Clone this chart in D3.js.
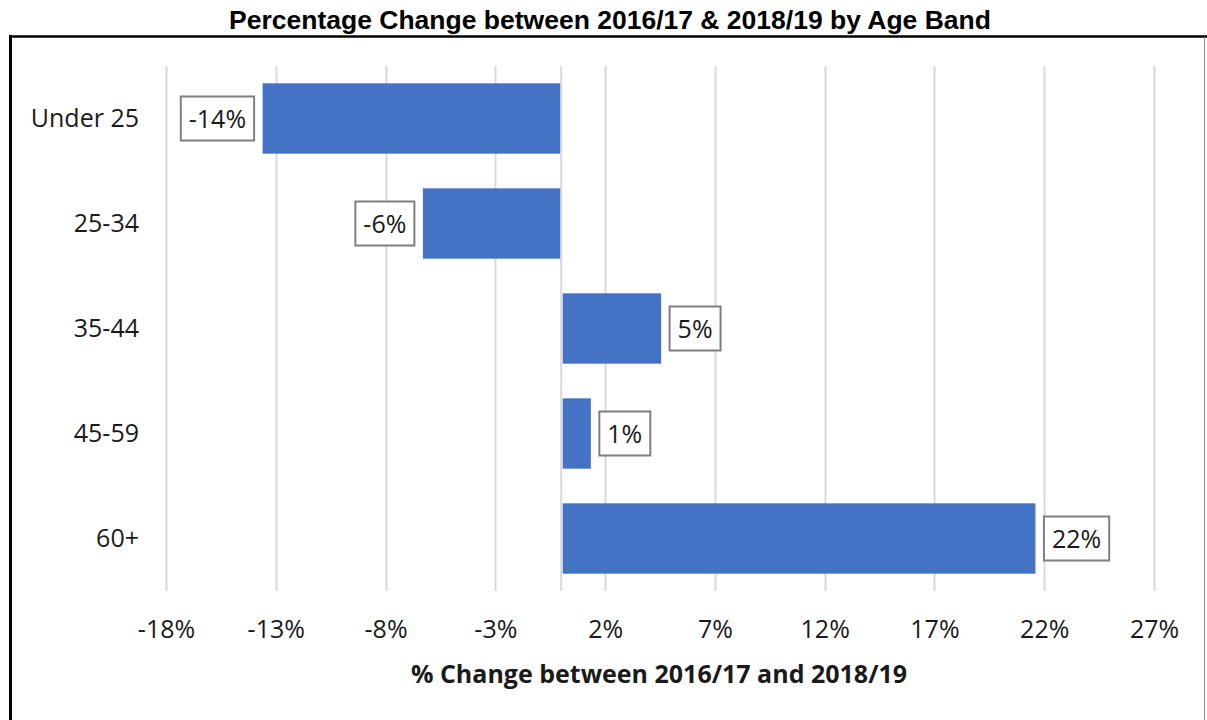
<!DOCTYPE html>
<html>
<head>
<meta charset="utf-8">
<script src="https://cdn.jsdelivr.net/npm/d3@7"></script>
<style>
  html, body { margin: 0; padding: 0; background: #fff; }
  svg { display: block; }
</style>
</head>
<body>
<svg id="chart" width="1207" height="720"></svg>
<script>
// ---- Data ----
const categories = ["Under 25", "25-34", "35-44", "45-59", "60+"];
const values = [-13.6, -6.3, 4.55, 1.35, 21.6];
const labels = ["-14%", "-6%", "5%", "1%", "22%"];
const tickValues = [-18, -13, -8, -3, 2, 7, 12, 17, 22, 27];
const tickLabels = ["-18%", "-13%", "-8%", "-3%", "2%", "7%", "12%", "17%", "22%", "27%"];
const titleText = "Percentage Change between 2016/17 & 2018/19 by Age Band";
const axisTitleText = "% Change between 2016/17 and 2018/19";

// ---- Layout ----
const W = 1207, H = 720;
const plot = { left: 166, right: 1154, top: 66, bottom: 591 };
const svg = d3.select("#chart");
const bodyFont = "'Open Sans', 'Noto Sans', sans-serif";

// Frame
svg.append("line").attr("x1", 9).attr("x2", W).attr("y1", 36.5).attr("y2", 36.5)
  .attr("stroke", "#000").attr("stroke-width", 2.5);
svg.append("line").attr("x1", 10.5).attr("x2", 10.5).attr("y1", 35).attr("y2", H)
  .attr("stroke", "#000").attr("stroke-width", 3);
svg.append("line").attr("x1", 1204.5).attr("x2", 1204.5).attr("y1", 37).attr("y2", H)
  .attr("stroke", "#8c8c8c").attr("stroke-width", 1);

// Title
svg.append("text")
  .attr("x", 610).attr("y", 29)
  .attr("text-anchor", "middle")
  .style("font-family", "'Liberation Sans', Arial, sans-serif")
  .style("font-weight", "bold")
  .style("font-size", "26.5px")
  .attr("fill", "#000")
  .text(titleText);

// Scales
const x = d3.scaleLinear().domain([-18, 27]).range([plot.left, plot.right]);
const y = d3.scaleBand().domain(categories).range([plot.top, plot.bottom]).paddingInner(0.33).paddingOuter(0.165);

// Gridlines
svg.append("g").selectAll("line").data(tickValues).join("line")
  .attr("x1", d => Math.round(x(d)) + 0.5).attr("x2", d => Math.round(x(d)) + 0.5)
  .attr("y1", plot.top).attr("y2", plot.bottom)
  .attr("stroke", "#d9d9d9").attr("stroke-width", 2);

// Zero axis line
svg.append("line")
  .attr("x1", x(0)).attr("x2", x(0))
  .attr("y1", plot.top).attr("y2", plot.bottom)
  .attr("stroke", "#d9d9d9").attr("stroke-width", 2);

// X axis (tick labels)
const xAxis = d3.axisBottom(x).tickValues(tickValues)
  .tickFormat((d, i) => tickLabels[i]).tickSize(0).tickPadding(0);
const gx = svg.append("g").attr("transform", `translate(0,${plot.bottom})`).call(xAxis);
gx.select(".domain").remove();
gx.selectAll("text")
  .attr("y", 0).attr("dy", null)
  .attr("transform", "translate(0,47)")
  .style("font-family", bodyFont).style("font-size", "25px").attr("fill", "#1a1a1a");

// Y axis (category labels)
const yAxis = d3.axisLeft(y).tickSize(0).tickPadding(0);
const gy = svg.append("g").attr("transform", `translate(139,0)`).call(yAxis);
gy.select(".domain").remove();
gy.selectAll("text")
  .attr("dy", "0.355em")
  .style("font-family", bodyFont).style("font-size", "25px").attr("fill", "#1a1a1a");

// Axis title
svg.append("text")
  .attr("x", 659).attr("y", 683)
  .attr("text-anchor", "middle")
  .style("font-family", bodyFont).style("font-weight", "bold").style("font-size", "25px")
  .attr("fill", "#1a1a1a")
  .text(axisTitleText);

// Bars
svg.append("g").selectAll("rect").data(values).join("rect")
  .attr("x", d => d < 0 ? x(d) : x(0) + 1.5)
  .attr("width", d => d < 0 ? x(0) - x(d) - 1 : x(d) - x(0) - 1.5)
  .attr("y", (d, i) => y(categories[i]))
  .attr("height", y.bandwidth())
  .attr("fill", "#4472c4");

// Data labels with boxes
const lg = svg.append("g");
values.forEach((v, i) => {
  const cy = y(categories[i]) + y.bandwidth() / 2;
  const g = lg.append("g");
  const t = g.append("text")
    .attr("y", cy).attr("dy", "0.38em")
    .attr("text-anchor", "middle")
    .style("font-family", bodyFont).style("font-size", "25px").attr("fill", "#1a1a1a")
    .text(labels[i]);
  const tw = t.node().getComputedTextLength();
  const bw = tw + 16, bh = 44, gap = 8.5;
  const bx = v < 0 ? x(v) - gap - bw : x(v) + gap;
  g.insert("rect", "text")
    .attr("x", bx).attr("y", cy - bh / 2)
    .attr("width", bw).attr("height", bh)
    .attr("fill", "#fff").attr("stroke", "#7f7f7f").attr("stroke-width", 2);
  t.attr("x", bx + bw / 2);
});
</script>
</body>
</html>
